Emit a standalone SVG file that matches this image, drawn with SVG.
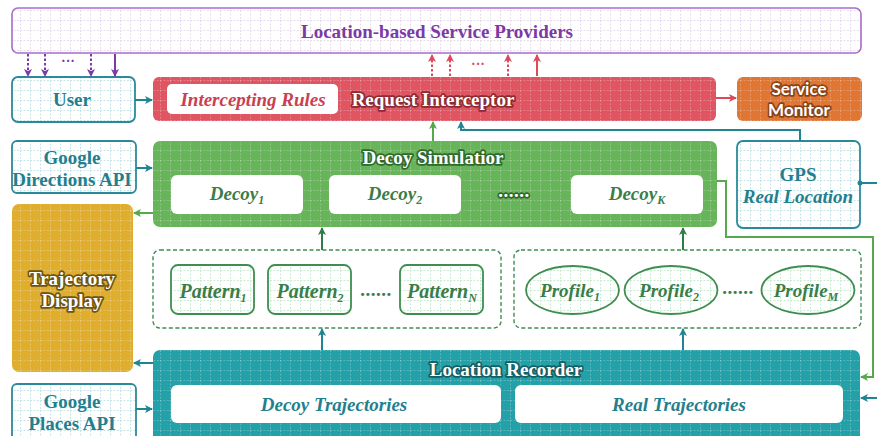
<svg xmlns="http://www.w3.org/2000/svg" width="877" height="436" viewBox="0 0 877 436">
  <defs>
    <pattern id="gridP" width="10" height="10" patternUnits="userSpaceOnUse">
      <path d="M0 0.5H10M0.5 0V10" fill="none" stroke="#e6dcee" stroke-width="1" stroke-dasharray="2 1.5"/>
    </pattern>
    <pattern id="gridT" width="10" height="10" patternUnits="userSpaceOnUse">
      <path d="M0 0.5H10M0.5 0V10" fill="none" stroke="#c6e5ea" stroke-width="1" stroke-dasharray="2 1.5"/>
    </pattern>
    <pattern id="gridG" width="10" height="10" patternUnits="userSpaceOnUse">
      <path d="M0 0.5H10M0.5 0V10" fill="none" stroke="#c8edd2" stroke-width="1" stroke-dasharray="2 1.5"/>
    </pattern>
    <pattern id="gridW" width="10" height="10" patternUnits="userSpaceOnUse">
      <path d="M0 0.5H10M0.5 0V10" fill="none" stroke="#ffffff" stroke-opacity="0.22" stroke-width="1" stroke-dasharray="2 1.5"/>
    </pattern>
    <marker id="aPurple" viewBox="0 0 8 8" refX="7" refY="4" markerWidth="8" markerHeight="8" markerUnits="userSpaceOnUse" orient="auto">
      <path d="M0 0L8 4L0 8L2 4z" fill="#7b3aa6"/>
    </marker>
    <marker id="aRed" viewBox="0 0 8 8" refX="7" refY="4" markerWidth="8" markerHeight="8" markerUnits="userSpaceOnUse" orient="auto">
      <path d="M0 0L8 4L0 8L2 4z" fill="#dc4a58"/>
    </marker>
    <marker id="aTeal" viewBox="0 0 8 8" refX="7" refY="4" markerWidth="8" markerHeight="8" markerUnits="userSpaceOnUse" orient="auto">
      <path d="M0 0L8 4L0 8L2 4z" fill="#1f8592"/>
    </marker>
    <marker id="aGreen" viewBox="0 0 8 8" refX="7" refY="4" markerWidth="8" markerHeight="8" markerUnits="userSpaceOnUse" orient="auto">
      <path d="M0 0L8 4L0 8L2 4z" fill="#55a94a"/>
    </marker>
    <marker id="aDkGreen" viewBox="0 0 8 8" refX="7" refY="4" markerWidth="8" markerHeight="8" markerUnits="userSpaceOnUse" orient="auto">
      <path d="M0 0L8 4L0 8L2 4z" fill="#2f7d45"/>
    </marker>
    <marker id="dotTeal" viewBox="0 0 6 6" refX="3" refY="3" markerWidth="6" markerHeight="6" markerUnits="userSpaceOnUse">
      <circle cx="3" cy="3" r="2.5" fill="#1f8592"/>
    </marker>
  </defs>
  <style>
    text { font-family: "Liberation Serif", "Times New Roman", serif; font-weight: bold; font-size: 19px; text-anchor: middle; }
    .it { font-style: italic; }
    .sub { font-size: 12px; }
    .halo { paint-order: stroke; stroke-width: 3.4px; stroke-linejoin: round; fill: #ffffff; }
    .sans { font-family: Lato, "Liberation Sans", sans-serif; font-size: 17px; }
    .tealTxt { fill: #237e8e; }
    .greenTxt { fill: #3a7d48; }
    .pat { font-size: 20px; }
    .inner { fill: #ffffff; }
    .dash { fill: none; stroke: #3f8d50; stroke-width: 1.4; stroke-dasharray: 4 2.5; }
    .patBox { fill: url(#gridG); stroke: #3f8d50; stroke-width: 1.8; }
    .tealBox { fill: url(#gridT); stroke: #2b8a9a; stroke-width: 1.8; }
    .conn { fill: none; stroke-width: 2; }
  </style>

  <!-- Service providers -->
  <g id="providers">
    <rect x="12" y="8" width="849" height="45" rx="6" fill="#ffffff"/>
    <rect x="12" y="8" width="849" height="45" rx="6" fill="url(#gridP)" stroke="#a86ccb" stroke-width="1.6"/>
    <text x="437" y="38" fill="#7b3aa6">Location-based Service Providers</text>
  </g>

  <!-- User -->
  <g id="user">
    <rect x="12" y="77" width="123" height="45" rx="6" class="tealBox"/>
    <text x="72" y="106" class="tealTxt">User</text>
  </g>

  <!-- Request interceptor -->
  <g id="interceptor">
    <rect x="153" y="77" width="563" height="44" rx="6" fill="#e05562"/>
    <rect x="153" y="77" width="563" height="44" rx="6" fill="url(#gridW)"/>
    <rect x="167" y="84" width="171" height="30" rx="5" class="inner"/>
    <text x="253" y="106" class="it" fill="#c94050">Intercepting Rules</text>
    <text x="433" y="106" class="halo" stroke="#8e2a35">Request Interceptor</text>
  </g>

  <!-- Service monitor -->
  <g id="monitor">
    <rect x="737" y="77" width="125" height="44" rx="6" fill="#e07634"/>
    <rect x="737" y="77" width="125" height="44" rx="6" fill="url(#gridW)"/>
    <text x="799" y="95" class="sans halo" stroke="#8a4318">Service</text>
    <text x="799" y="116" class="sans halo" stroke="#8a4318">Monitor</text>
  </g>

  <!-- Google Directions API -->
  <g id="directions">
    <rect x="12" y="141" width="124" height="52" rx="5" class="tealBox"/>
    <text x="72" y="164" class="tealTxt">Google</text>
    <text x="72" y="186" class="tealTxt">Directions API</text>
  </g>

  <!-- Decoy simulator -->
  <g id="simulator">
    <rect x="153" y="141" width="564" height="86" rx="7" fill="#68b45a"/>
    <rect x="153" y="141" width="564" height="86" rx="7" fill="url(#gridW)"/>
    <text x="433" y="164" class="halo" stroke="#2f6a2c">Decoy Simulatior</text>
    <rect x="171" y="175" width="132" height="39" rx="6" class="inner"/>
    <rect x="329" y="175" width="132" height="39" rx="6" class="inner"/>
    <rect x="571" y="175" width="132" height="39" rx="6" class="inner"/>
    <text x="237" y="200" class="it greenTxt">Decoy<tspan class="sub" dy="4">1</tspan></text>
    <text x="395" y="200" class="it greenTxt">Decoy<tspan class="sub" dy="4">2</tspan></text>
    <text x="514" y="197" class="halo" stroke="#2f6a2c" style="letter-spacing:0.5px">......</text>
    <text x="637" y="200" class="it greenTxt">Decoy<tspan class="sub" dy="4">K</tspan></text>
  </g>

  <!-- GPS -->
  <g id="gps">
    <rect x="737" y="141" width="123" height="87" rx="6" class="tealBox"/>
    <text x="798" y="181" class="tealTxt">GPS</text>
    <text x="798" y="203" class="it tealTxt">Real Location</text>
  </g>

  <!-- Trajectory display -->
  <g id="display">
    <rect x="12" y="204" width="121" height="168" rx="7" fill="#e0ae2e"/>
    <rect x="12" y="204" width="121" height="168" rx="7" fill="url(#gridW)"/>
    <text x="72" y="285" class="halo" stroke="#6e5410">Trajectory</text>
    <text x="72" y="307" class="halo" stroke="#6e5410">Display</text>
  </g>

  <!-- Patterns -->
  <g id="patterns">
    <rect x="153" y="250" width="348" height="78" rx="7" class="dash"/>
    <rect x="171" y="265" width="83" height="49" rx="7" class="patBox"/>
    <rect x="268" y="265" width="83" height="49" rx="7" class="patBox"/>
    <rect x="400" y="265" width="83" height="49" rx="7" class="patBox"/>
    <text x="213" y="298" class="it greenTxt pat">Pattern<tspan class="sub" dy="4">1</tspan></text>
    <text x="310" y="298" class="it greenTxt pat">Pattern<tspan class="sub" dy="4">2</tspan></text>
    <text x="376" y="296" class="greenTxt" style="letter-spacing:0.5px">......</text>
    <text x="442" y="298" class="it greenTxt pat">Pattern<tspan class="sub" dy="4">N</tspan></text>
  </g>

  <!-- Profiles -->
  <g id="profiles">
    <rect x="514" y="250" width="347" height="78" rx="7" class="dash"/>
    <ellipse cx="572.5" cy="290" rx="46.5" ry="24" class="patBox"/>
    <ellipse cx="671" cy="290" rx="46.5" ry="24" class="patBox"/>
    <ellipse cx="808" cy="290" rx="46.5" ry="24" class="patBox"/>
    <text x="570" y="297" class="it greenTxt">Profile<tspan class="sub" dy="4">1</tspan></text>
    <text x="669" y="297" class="it greenTxt">Profile<tspan class="sub" dy="4">2</tspan></text>
    <text x="738" y="294" class="greenTxt" style="letter-spacing:0.5px">......</text>
    <text x="806" y="297" class="it greenTxt">Profile<tspan class="sub" dy="4">M</tspan></text>
  </g>

  <!-- Location recorder -->
  <g id="recorder">
    <rect x="153" y="350" width="707" height="92" rx="7" fill="#24a0a8"/>
    <rect x="153" y="350" width="707" height="92" rx="7" fill="url(#gridW)"/>
    <text x="506" y="376" class="halo" stroke="#145f66">Location Recorder</text>
    <rect x="171" y="385" width="330" height="38" rx="6" class="inner"/>
    <rect x="515" y="385" width="328" height="38" rx="6" class="inner"/>
    <text x="334" y="411" class="it tealTxt">Decoy Trajectories</text>
    <text x="679" y="411" class="it tealTxt">Real Trajectories</text>
  </g>

  <!-- Google Places API -->
  <g id="places">
    <rect x="12" y="384" width="124" height="60" rx="5" class="tealBox"/>
    <text x="72" y="408" class="tealTxt">Google</text>
    <text x="72" y="430" class="tealTxt">Places API</text>
  </g>

  <!-- Connectors -->
  <g id="connectors">
    <!-- providers to user -->
    <g stroke="#7b3aa6" class="conn" marker-end="url(#aPurple)">
      <path d="M28 54V76" stroke-dasharray="2.5 2"/>
      <path d="M45 54V76" stroke-dasharray="2.5 2"/>
      <path d="M91 54V76" stroke-dasharray="2.5 2"/>
      <path d="M115 54V76"/>
    </g>
    <text x="68" y="66" fill="#7b3aa6" style="font-size:14px">···</text>
    <!-- interceptor to providers -->
    <g stroke="#dc4a58" class="conn" marker-end="url(#aRed)">
      <path d="M432 76V55" stroke-dasharray="2.5 2"/>
      <path d="M450 76V55" stroke-dasharray="2.5 2"/>
      <path d="M508 76V55" stroke-dasharray="2.5 2"/>
      <path d="M537 76V55"/>
    </g>
    <text x="478" y="69" fill="#dc4a58" style="font-size:14px">···</text>
    <!-- user to interceptor -->
    <path d="M135 100H152" stroke="#1f8592" class="conn" marker-end="url(#aTeal)"/>
    <!-- interceptor to monitor -->
    <path d="M716 98H736" stroke="#dc4a58" class="conn" marker-end="url(#aRed)"/>
    <!-- simulator to interceptor -->
    <path d="M433 141V122" stroke="#55a94a" class="conn" marker-end="url(#aGreen)"/>
    <!-- GPS to interceptor -->
    <path d="M800 141V130H461V122" stroke="#1f8592" class="conn" marker-end="url(#aTeal)"/>
    <!-- directions API to simulator -->
    <path d="M136 168H152" stroke="#1f8592" class="conn" marker-end="url(#aTeal)"/>
    <!-- simulator to trajectory display -->
    <path d="M153 213H134" stroke="#55a94a" class="conn" marker-end="url(#aGreen)"/>
    <!-- simulator to recorder -->
    <path d="M717 181H726V237H873V377H861" stroke="#55a94a" class="conn" marker-end="url(#aGreen)"/>
    <!-- GPS to recorder -->
    <path d="M860 183H878" stroke="#1f8592" class="conn" marker-start="url(#dotTeal)"/>
    <path d="M878 398H861" stroke="#1f8592" class="conn" marker-end="url(#aTeal)"/>
    <!-- patterns/profiles to simulator -->
    <path d="M322 250V228" stroke="#2f7d45" class="conn" marker-end="url(#aDkGreen)"/>
    <path d="M683 250V228" stroke="#2f7d45" class="conn" marker-end="url(#aDkGreen)"/>
    <!-- recorder to patterns/profiles -->
    <path d="M322 350V329" stroke="#1f8592" class="conn" marker-end="url(#aTeal)"/>
    <path d="M683 350V329" stroke="#1f8592" class="conn" marker-end="url(#aTeal)"/>
    <!-- recorder to trajectory display -->
    <path d="M153 363H134" stroke="#1f8592" class="conn" marker-end="url(#aTeal)"/>
    <!-- places API to recorder -->
    <path d="M136 409H152" stroke="#1f8592" class="conn" marker-end="url(#aTeal)"/>
  </g>
</svg>
